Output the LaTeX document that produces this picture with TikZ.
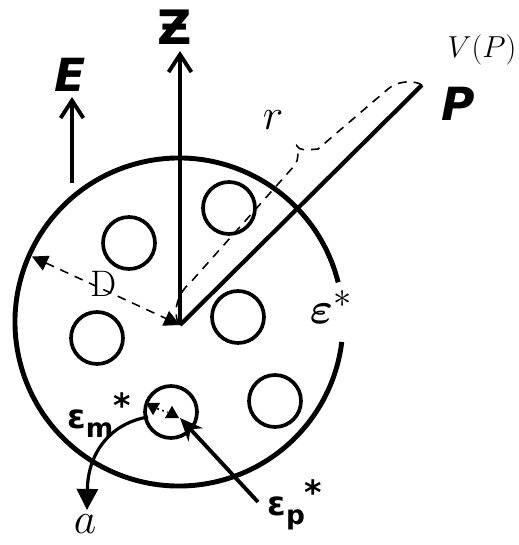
\documentclass[tikz,border=0pt]{standalone}
\usepackage{amsmath,amssymb}
\usepackage{fontspec}
\usepackage{tikz}
\usetikzlibrary{arrows.meta, positioning, calc, shapes.geometric}
\newfontfamily\handfont{DejaVu Sans}

\begin{document}
\begin{tikzpicture}[x=0.02cm, y=0.02cm]
\tikzstyle{hole} = [circle, draw, line width=2.1pt, minimum size=1.04cm, inner sep=0pt]
\tikzstyle{axis} = [draw, line width=2.2pt, -{Straight Barb[length=10pt, width=13pt, line width=2.2pt]}]
\tikzstyle{hand} = [font=\handfont\bfseries\itshape\fontsize{26}{28}\selectfont, inner sep=1pt]
\tikzstyle{small hand} = [font=\handfont\bfseries\fontsize{19}{21}\selectfont, inner sep=1pt]
\tikzstyle{dimline} = [draw, dashed, line width=0.9pt, dash pattern=on 5pt off 4pt]
\tikzstyle{tri} = [isosceles triangle, fill, inner sep=0pt, minimum size=7pt, isosceles triangle apex angle=60]

\useasboundingbox (0,0) rectangle (519,545);

\coordinate (C) at (179,223);
\coordinate (O) at (180,220);
\coordinate (Ztip) at (180,494);
\coordinate (Ebase) at (72,362);
\coordinate (Etip) at (72,448);
\coordinate (Pend) at (422,460);
\coordinate (Dend) at ($(C)+(156:161)$);

\draw[line width=2.8pt] ($(C)+(14:164)$) arc[start angle=14, end angle=353, radius=164];

\node (h1) [hole] at (129,302) {};
\node (h2) [hole] at (97,207) {};
\node (h3) [hole] at (229,337) {};
\node (h4) [hole] at (238,228) {};
\node (h5) [hole] at (275,144) {};
\node (h6) [hole] at (171,133) {};

\draw [axis] (O) -- (Ztip);
\node (zlab) [hand, font=\handfont\bfseries\fontsize{27}{29}\selectfont] at (175,518) {Ƶ};
\draw [axis] (Ebase) -- (Etip);
\node (elab) [hand] at (70,470) {E};

\draw [line width=2.4pt] (O) -- (Pend);
\node (plab) [hand] at (458,441) {P};
\node (vp) at (482,495) {\fontsize{18}{20}\selectfont $V(P)$};

\draw [dimline] (178,222) .. controls (173,236) and (178,252) .. (190,262) -- (295,380) .. controls (299,386) and (298,393) .. (297,399) .. controls (300,394) and (306,395) .. (318,396) -- (388,456) .. controls (396,463) and (412,466) .. (Pend);
\node (rlab) at (273,425) {\fontsize{27}{29}\selectfont $r$};

\draw [dimline, {Triangle[length=9pt, width=9pt]}-{Triangle[length=9pt, width=9pt]}] (Dend) -- (O);
\node (dlab) at (104,261) {\fontsize{21}{23}\selectfont D};

\node (epslab) at (331,238) {\fontsize{30}{32}\selectfont $\boldsymbol{\varepsilon}^{*}$};

\node (tdown) [tri, shape border rotate=-90] at (153,138) {};
\node (tup) [tri, shape border rotate=90] at (172,131) {};
\draw [dotted, line width=1pt] (tdown) -- (tup);

\node (emlab) [small hand] at (99,130) {ε\raisebox{-0.5ex}{\fontsize{15}{17}\selectfont m}\raisebox{0.6ex}{*}};
\node (eplab) [small hand] at (295,40) {ε\raisebox{-0.5ex}{\fontsize{15}{17}\selectfont p}\raisebox{0.6ex}{*}};
\coordinate (Ptail) at (258,43);
\coordinate (Phead) at (180,127);
\draw [line width=2.2pt, -{Stealth[length=13pt, width=11pt]}] (Ptail) -- (Phead);

\coordinate (astart) at (148,128);
\coordinate (aend) at (87,35);
\draw [line width=1.8pt, -{Triangle[length=12pt, width=12pt]}] (astart) .. controls (112,122) and (88,94) .. (aend);
\node (alab) [inner sep=0pt] at (85,21) {\fontsize{26}{28}\selectfont $a$};
\end{tikzpicture}
\end{document}
